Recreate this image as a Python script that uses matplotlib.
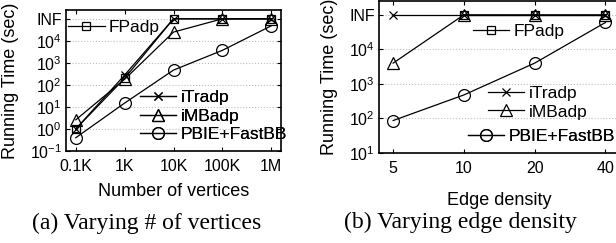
import numpy as np
import matplotlib.pyplot as plt
from matplotlib.ticker import NullLocator

plt.rcParams['font.family'] = 'Liberation Sans'
plt.rcParams['mathtext.fontset'] = 'custom'
plt.rcParams['mathtext.rm'] = 'Liberation Sans'
plt.rcParams['mathtext.it'] = 'Liberation Sans:italic'

INF = 1e5
nan = np.nan

# (a) varying number of vertices
verts = ['0.1K', '1K', '10K', '100K', '1M']
fp_a = [1.0, 200, INF, INF, INF]
itr_a = [1.0, 280, INF, INF, INF]
imb_a = [2.6, 180, 2.5e4, INF, INF]
pbie_a = [0.4, 15, 470, 3700, 4.8e4]

# (b) varying edge density
dens = ['5', '10', '20', '40']
fp_b = [nan, INF, INF, INF]
itr_b = [INF, INF, INF, INF]
imb_b = [4000, INF, INF, INF]
pbie_b = [87, 480, 4000, 6e4]

names = ['FPadp', 'iTradp', 'iMBadp', 'PBIE+FastBB']
marks = ['s', 'x', '^', 'o']
msz = [5.5, 5.5, 8.5, 8.5]

ytk_a = [0.1, 1, 10, 100, 1e3, 1e4, 1e5]
ylab_a = ['$10^{-1}$', '$10^{0}$', '$10^{1}$', '$10^{2}$', '$10^{3}$', '$10^{4}$', 'INF']
ytk_b = [10, 100, 1e3, 1e4, 1e5]
ylab_b = ['$10^{1}$', '$10^{2}$', '$10^{3}$', '$10^{4}$', 'INF']

fig = plt.figure(figsize=(6.16, 2.43), dpi=100)
ax1 = fig.add_axes([66/616, 1-151/243, 215/616, 141/243])
ax2 = fig.add_axes([379/616, 1-153/243, 240.6/616, 152/243])


def draw(ax, xt, series, yt, yl, ylim, xlabel):
    x = np.arange(len(xt))
    lines = []
    for vals, m, s, n in zip(series, marks, msz, names):
        l, = ax.plot(x, vals, color='k', lw=0.9, marker=m, ms=s,
                     mfc='none', mec='k', mew=0.9, label=n)
        lines.append(l)
    ax.set_yscale('log')
    ax.set_ylim(*ylim)
    ax.set_xlim(-0.2, len(xt) - 0.8)
    ax.set_xticks(x)
    ax.set_xticklabels(xt)
    ax.set_yticks(yt)
    ax.set_yticklabels(yl)
    ax.yaxis.set_minor_locator(NullLocator())
    ax.grid(axis='y', linestyle=':', color='0.75', lw=0.8)
    ax.tick_params(direction='in', top=True, right=True, length=3,
                   width=0.8, labelsize=11.5)
    ax.tick_params(axis='x', pad=6)
    ax.tick_params(axis='y', pad=3)
    for sp in ax.spines.values():
        sp.set_linewidth(1.2)
    ax.set_xlabel(xlabel, fontsize=13)
    ax.set_ylabel('Running Time (sec)', fontsize=13)
    return lines


def leg(ax, handles, xy):
    lg = ax.legend(handles=handles, loc='center left', bbox_to_anchor=xy,
                   frameon=False, fontsize=12.5, borderpad=0, borderaxespad=0,
                   handlelength=2.1, handletextpad=0.25, labelspacing=0.18)
    ax.add_artist(lg)


la = draw(ax1, verts, [fp_a, itr_a, imb_a, pbie_a], ytk_a, ylab_a,
          (10**-1, 10**5.4), 'Number of vertices')
leg(ax1, la[:1], (0.01, 0.879))
leg(ax1, la[1:], (0.344, 0.248))
ax1.xaxis.set_label_coords(0.5, -0.225)
ax1.yaxis.set_label_coords(-0.22, 0.5)

lb = draw(ax2, dens, [fp_b, itr_b, imb_b, pbie_b], ytk_b, ylab_b,
          (10**1, 10**5.4), 'Edge density')
leg(ax2, lb[:1], (0.389, 0.798))
leg(ax2, lb[1:3], (0.452, 0.33))
leg(ax2, lb[3:], (0.369, 0.107))
ax2.xaxis.set_label_coords(0.5, -0.255)
ax2.yaxis.set_label_coords(-0.17, 0.5)

fig.text(147/616, 1-223/243, '(a) Varying # of vertices', family='Liberation Serif',
         fontsize=17, ha='center', va='center')
fig.text(460/616, 1-222/243, '(b) Varying edge density', family='Liberation Serif',
         fontsize=17, ha='center', va='center')

fig.savefig('out.png', dpi=100)
